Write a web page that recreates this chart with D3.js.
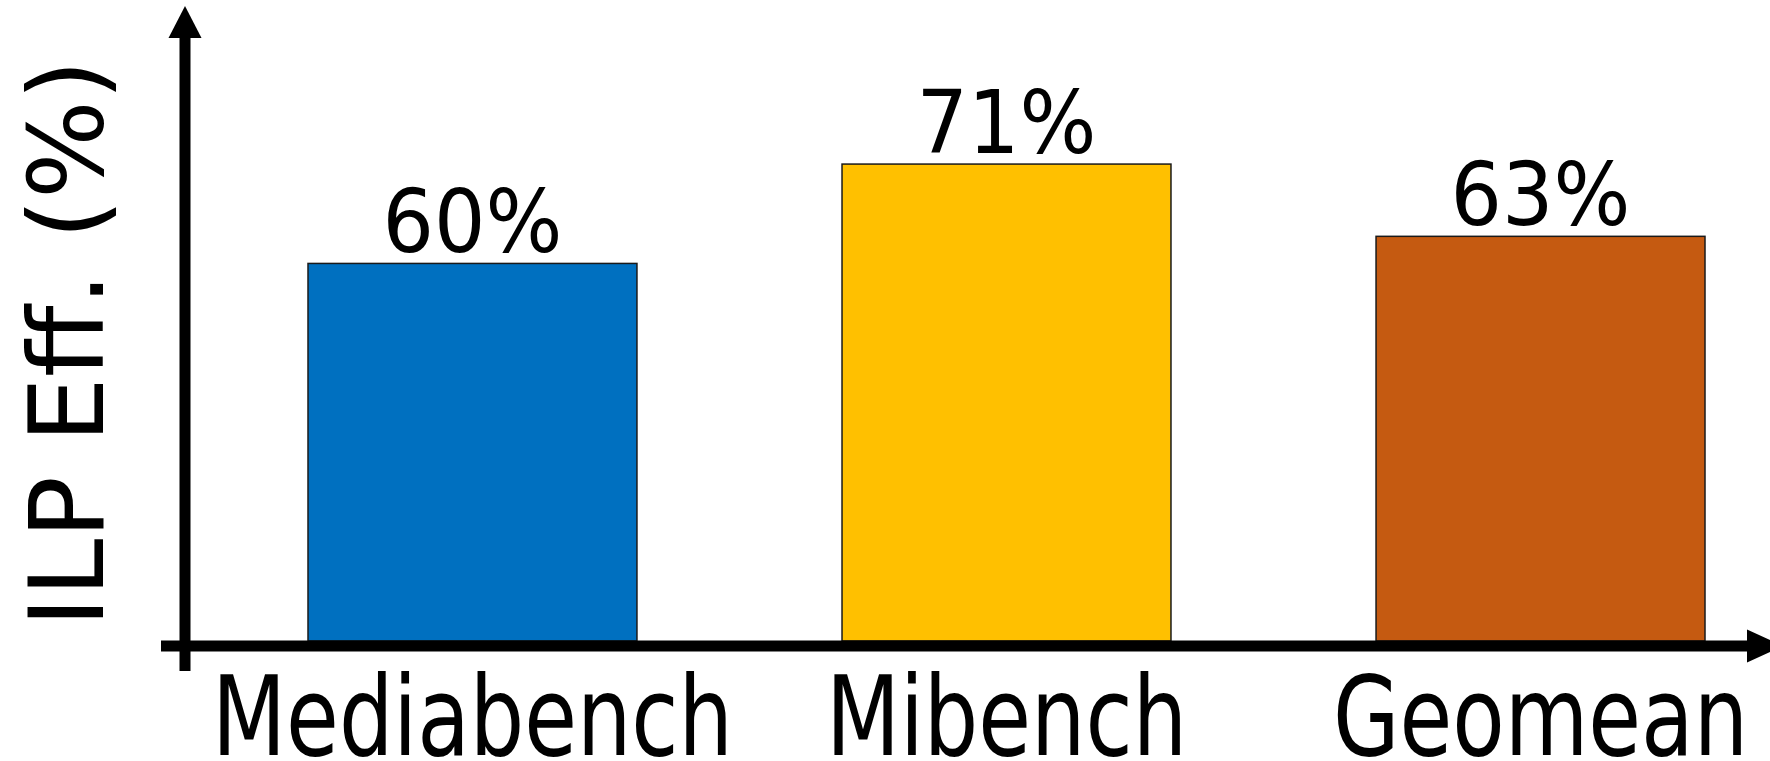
<!DOCTYPE html>
<html>
<head>
<meta charset="utf-8">
<script src="https://cdn.jsdelivr.net/npm/d3@7"></script>
<style>
  html, body { margin: 0; padding: 0; background: #fff; overflow: hidden; }
  text { font-family: "DejaVu Sans", Verdana, sans-serif; fill: #000; }
</style>
</head>
<body>
<svg id="chart" width="1770" height="761"></svg>
<script>
// Benchmark suites and their ILP efficiency (%)
const categories = ["Mediabench", "Mibench", "Geomean"];
const values = [60, 71, 63];
const valueLabels = ["60%", "71%", "63%"];
const barColors = ["#0070C0", "#FFC000", "#C55A11"];
const yTitle = "ILP Eff. (%)";
const yDomain = [18.2, 88.5];

const svg = d3.select("#chart");

const x = d3.scaleBand()
  .domain(categories)
  .range([308, 1705])
  .paddingInner(0.384)
  .paddingOuter(0);

const y = d3.scaleLinear()
  .domain(yDomain)
  .range([641, 6]);

const color = d3.scaleOrdinal().domain(categories).range(barColors);

const data = categories.map((c, i) => ({ cat: c, value: values[i], label: valueLabels[i] }));

// bars
svg.append("g")
  .selectAll("rect")
  .data(data)
  .join("rect")
  .attr("x", d => x(d.cat))
  .attr("y", d => y(d.value))
  .attr("width", x.bandwidth())
  .attr("height", d => y(yDomain[0]) - y(d.value))
  .attr("fill", d => color(d.cat))
  .attr("stroke", "#1a1a1a")
  .attr("stroke-width", 1.5);

// value labels above bars
svg.append("g")
  .selectAll("text")
  .data(data)
  .join("text")
  .attr("transform", d => `translate(${x(d.cat) + x.bandwidth() / 2},${y(d.value) - 11}) scale(0.92,1)`)
  .attr("text-anchor", "middle")
  .attr("font-size", 88)
  .text(d => d.label);

// category labels under the axis
svg.append("g")
  .selectAll("text")
  .data(categories)
  .join("text")
  .attr("transform", c => `translate(${x(c) + x.bandwidth() / 2},755) scale(0.78,1)`)
  .attr("text-anchor", "middle")
  .attr("font-size", 110)
  .text(c => c);

// axes with arrowheads
const axisX = 185;
const axisY = 646;
const [yBottom, yTop] = y.range();
const axes = svg.append("g");

axes.append("line")
  .attr("x1", axisX).attr("x2", axisX)
  .attr("y1", axisY + 25).attr("y2", yTop + 30)
  .attr("stroke", "#000").attr("stroke-width", 11);
axes.append("path")
  .attr("d", `M${axisX},${yTop} L${axisX - 16.5},${yTop + 32} L${axisX + 16.5},${yTop + 32} Z`)
  .attr("fill", "#000");

const xEnd = x.range()[1] + 42;
axes.append("line")
  .attr("x1", 161).attr("x2", xEnd + 2)
  .attr("y1", axisY).attr("y2", axisY)
  .attr("stroke", "#000").attr("stroke-width", 11);
axes.append("path")
  .attr("d", `M${xEnd},${axisY - 16.5} L${xEnd + 36},${axisY} L${xEnd},${axisY + 16.5} Z`)
  .attr("fill", "#000");

// y-axis title
svg.append("text")
  .attr("transform", `translate(103,${(yBottom + yTop) / 2 + 20}) rotate(-90)`)
  .attr("text-anchor", "middle")
  .attr("font-size", 104)
  .text(yTitle);
</script>
</body>
</html>
